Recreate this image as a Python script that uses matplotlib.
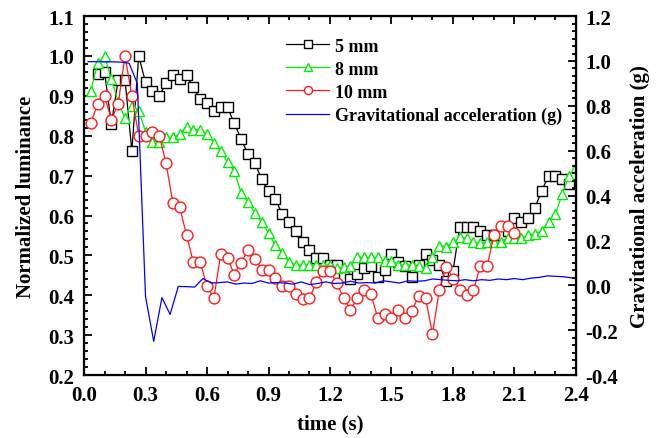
import numpy as np
import matplotlib
matplotlib.use("Agg")
import matplotlib.pyplot as plt
from matplotlib.ticker import MultipleLocator, AutoMinorLocator

plt.rcParams['font.family'] = ['Liberation Serif', 'DejaVu Serif']
plt.rcParams['font.weight'] = 'bold'
plt.rcParams['axes.labelweight'] = 'bold'

# frames recorded at 30 fps
fps = 30.0

lum_5mm = [0.955, 0.961, 0.829, 0.940, 0.940, 0.762, 1.000, 0.934, 0.913, 0.900,
           0.932, 0.952, 0.942, 0.952, 0.921, 0.892, 0.881, 0.862, 0.871, 0.871,
           0.831, 0.792, 0.753, 0.732, 0.691, 0.661, 0.641, 0.604, 0.583, 0.562,
           0.533, 0.514, 0.493, 0.493, 0.476, 0.476, 0.445, 0.441, 0.453, 0.468,
           0.474, 0.445, 0.464, 0.503, 0.484, 0.474, 0.445, 0.476, 0.503, 0.489,
           0.476, 0.435, 0.460, 0.572, 0.572, 0.572, 0.562, 0.551, 0.551, 0.551,
           0.562, 0.593, 0.583, 0.593, 0.620, 0.662, 0.700, 0.700, 0.691, 0.679]

lum_8mm = [0.913, 0.982, 1.000, 0.942, 0.885, 0.844, 0.875, 0.863, 0.810, 0.785,
           0.785, 0.796, 0.796, 0.804, 0.823, 0.815, 0.815, 0.804, 0.783, 0.762,
           0.733, 0.712, 0.656, 0.633, 0.606, 0.583, 0.556, 0.525, 0.505, 0.484,
           0.476, 0.476, 0.476, 0.476, 0.476, 0.476, 0.468, 0.470, 0.473, 0.495,
           0.495, 0.495, 0.495, 0.487, 0.487, 0.476, 0.476, 0.476, 0.473, 0.468,
           0.495, 0.524, 0.522, 0.533, 0.545, 0.543, 0.534, 0.531, 0.534, 0.534,
           0.534, 0.543, 0.543, 0.543, 0.551, 0.554, 0.562, 0.583, 0.604, 0.655,
           0.700, 0.722]

lum_10mm = [0.832, 0.880, 0.900, 0.840, 0.880, 1.000, 0.900, 0.800, 0.800, 0.810,
            0.800, 0.732, 0.632, 0.621, 0.551, 0.483, 0.483, 0.423, 0.392, 0.503,
            0.493, 0.452, 0.482, 0.513, 0.492, 0.464, 0.464, 0.443, 0.423, 0.423,
            0.403, 0.391, 0.392, 0.433, 0.462, 0.462, 0.430, 0.393, 0.363, 0.393,
            0.412, 0.403, 0.342, 0.353, 0.342, 0.363, 0.342, 0.361, 0.399, 0.392,
            0.303, 0.413, 0.472, 0.442, 0.413, 0.401, 0.412, 0.473, 0.473, 0.551,
            0.574, 0.574, 0.556]

# accelerometer, sampled every 0.04 s starting at 0.02 s
g_accel = [0.997, 0.997, 0.996, 0.996, 0.995, 0.990, 0.900, -0.050, -0.250, -0.055,
           -0.130, -0.005, -0.006, -0.008, 0.030, 0.010, 0.012, 0.015, 0.005, 0.010,
           0.008, 0.020, 0.010, 0.012, 0.010, 0.005, 0.015, 0.003, 0.008, 0.015,
           0.008, 0.010, 0.018, 0.010, 0.012, 0.010, 0.020, 0.015, 0.010, 0.020,
           0.018, 0.020, 0.028, 0.025, 0.022, 0.020, 0.025, 0.020, 0.025, 0.022,
           0.028, 0.025, 0.030, 0.025, 0.032, 0.035, 0.042, 0.040, 0.038, 0.033]

t_5mm = (np.arange(len(lum_5mm)) + 2) / fps
t_8mm = (np.arange(len(lum_8mm)) + 1) / fps
t_10mm = (np.arange(len(lum_10mm)) + 1) / fps
t_g = 0.02 + 0.04 * np.arange(len(g_accel))

fig = plt.figure(figsize=(6.59, 4.39), dpi=100)
ax = fig.add_axes([0.1275, 0.1435, 0.7465, 0.8175])
ax2 = ax.twinx()

ax.plot(t_5mm, lum_5mm, color='black', lw=0.9, marker='s', ms=6.8,
        mfc='white', mec='black', mew=1.0, label='5 mm')
ax.plot(t_8mm, lum_8mm, color='#00ee00', lw=0.9, marker='^', ms=7.8,
        mfc='white', mec='#00ee00', mew=1.0, label='8 mm')
ax.plot(t_10mm, lum_10mm, color='#ff1a1a', lw=0.9, marker='o', ms=7.8,
        mfc='white', mec='#ff1a1a', mew=1.0, label='10 mm')
ax2.plot(t_g, g_accel, color='#0000ff', lw=0.9,
         label='Gravitational acceleration (g)')

ax.set_xlim(0, 2.4)
ax.set_ylim(0.2, 1.1)
ax2.set_ylim(-0.4, 1.2)

ax.xaxis.set_major_locator(MultipleLocator(0.3))
ax.xaxis.set_minor_locator(MultipleLocator(0.1))
ax.yaxis.set_major_locator(MultipleLocator(0.1))
ax.yaxis.set_minor_locator(AutoMinorLocator(5))
ax2.yaxis.set_major_locator(MultipleLocator(0.2))
ax2.yaxis.set_minor_locator(AutoMinorLocator(6))

ax.tick_params(which='both', direction='in', top=True, right=False,
               labelsize=15, width=1.3)
ax.tick_params(which='major', length=6, pad=7)
ax.tick_params(which='minor', length=3)
ax2.tick_params(which='both', direction='in', labelsize=15, width=1.3)
ax2.tick_params(which='major', length=6, pad=7)
ax2.tick_params(which='minor', length=3)

ax.xaxis.set_major_formatter(plt.FuncFormatter(lambda v, p: f"{v:.1f}"))
ax.yaxis.set_major_formatter(plt.FuncFormatter(lambda v, p: f"{v:.1f}"))
ax2.yaxis.set_major_formatter(plt.FuncFormatter(lambda v, p: f"{v:.1f}"))

for sp in ax2.spines.values():
    sp.set_linewidth(1.6)

ax.set_xlabel('time (s)', fontsize=15, labelpad=6)
ax.set_ylabel('Normalized luminance', fontsize=15, labelpad=9)
ax2.set_ylabel('Gravitational acceleration (g)', fontsize=15, labelpad=8)

handles = ax.get_lines() + ax2.get_lines()
labels = [h.get_label() for h in handles]
ax2.legend(handles, labels, loc='upper left', bbox_to_anchor=(0.385, 0.975),
           frameon=False, fontsize=13, markerscale=0.75, handlelength=2.4,
           handletextpad=0.3, labelspacing=0.33, borderpad=0.2)

fig.savefig('out.png', dpi=100)
